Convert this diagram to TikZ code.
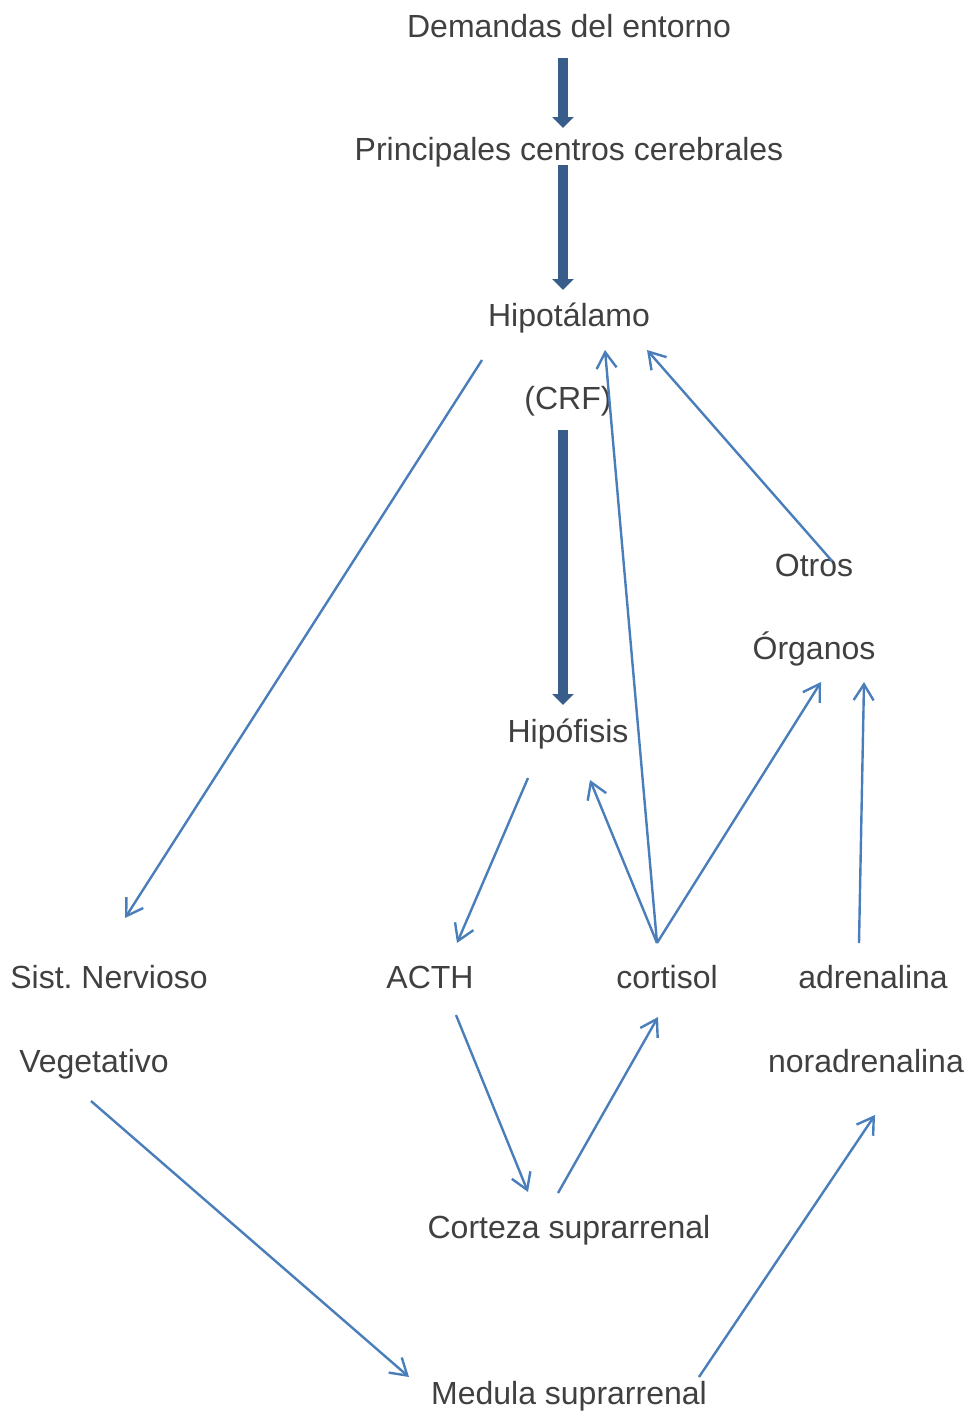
\documentclass[tikz,border=0pt]{standalone}
\usepackage{fontspec}
\setmainfont{Liberation Sans}
\usetikzlibrary{arrows.meta}
\definecolor{txt}{HTML}{404040}
\definecolor{thick}{HTML}{385D8A}
\definecolor{thin}{HTML}{4A7EBB}
\tikzset{
  lbl/.style={anchor=base, inner sep=0pt, text=txt, font=\fontsize{32pt}{38pt}\selectfont},
  bigarrow/.style={draw=thick, line width=10pt, -{Triangle[length=11pt,width=21pt]}},
  thinarrow/.style={draw=thin, line width=2.4pt, -{Straight Barb[length=16pt,width=20pt,line width=2.4pt]}},
}
\begin{document}
\begin{tikzpicture}[x=1pt,y=-1pt]
\useasboundingbox (0,0) rectangle (968,1411);
% labels
\node[lbl] (dem) at (569,37.5) {Demandas del entorno};
\node[lbl] (pcc) at (569,160.5) {Principales centros cerebrales};
\node[lbl] (hip) at (569,326.5) {Hipotálamo};
\node[lbl] (crf) at (568,409.5) {(CRF)};
\node[lbl] (otr) at (814,576.5) {Otros};
\node[lbl] (org) at (814,659.5) {Órganos};
\node[lbl] (hpf) at (568,742.5) {Hipófisis};
\node[lbl] (sist) at (109,988.5) {Sist.\ Nervioso};
\node[lbl] (acth) at (430,988.5) {ACTH};
\node[lbl] (cort) at (667,988.5) {cortisol};
\node[lbl] (adr) at (873,988.5) {adrenalina};
\node[lbl] (veg) at (94,1072.5) {Vegetativo};
\node[lbl] (nor) at (866,1072.5) {noradrenalina};
\node[lbl] (csr) at (569,1238.5) {Corteza suprarrenal};
\node[lbl] (msr) at (569,1404.5) {Medula suprarrenal};
% connector ends
\coordinate (demS) at (563,58);
\coordinate (pccN) at (563,128);
\coordinate (pccS) at (563,165);
\coordinate (hipN) at (563,290);
\coordinate (crfS) at (563,430);
\coordinate (hpfN) at (563,705);
\coordinate (hipSW) at (482,360);
\coordinate (sistN) at (125,918);
\coordinate (hipSE) at (605,350);
\coordinate (hipSE2) at (647,350);
\coordinate (otrS) at (832,561);
\coordinate (cortN) at (657,943);
\coordinate (hpfSW) at (528,778);
\coordinate (hpfSE) at (590,780);
\coordinate (acthN) at (457,943);
\coordinate (orgSW) at (821,682);
\coordinate (orgSE) at (864,682);
\coordinate (adrN) at (859,943);
\coordinate (acthS) at (456,1015);
\coordinate (csrN1) at (528,1192);
\coordinate (csrN2) at (558,1193);
\coordinate (cortS) at (658,1017);
\coordinate (vegS) at (91,1101);
\coordinate (msrW) at (409,1377);
\coordinate (msrE) at (699,1377);
\coordinate (norS) at (875,1115);
% thick arrows
\draw[bigarrow] (demS) -- (pccN);
\draw[bigarrow] (pccS) -- (hipN);
\draw[bigarrow] (crfS) -- (hpfN);
% thin arrows
\draw[thinarrow] (hipSW) -- (sistN);
\draw[thinarrow] (cortN) -- (hipSE);
\draw[thinarrow] (otrS) -- (hipSE2);
\draw[thinarrow] (hpfSW) -- (acthN);
\draw[thinarrow] (cortN) -- (hpfSE);
\draw[thinarrow] (cortN) -- (orgSW);
\draw[thinarrow] (adrN) -- (orgSE);
\draw[thinarrow] (acthS) -- (csrN1);
\draw[thinarrow] (csrN2) -- (cortS);
\draw[thinarrow] (vegS) -- (msrW);
\draw[thinarrow] (msrE) -- (norS);
\end{tikzpicture}
\end{document}
